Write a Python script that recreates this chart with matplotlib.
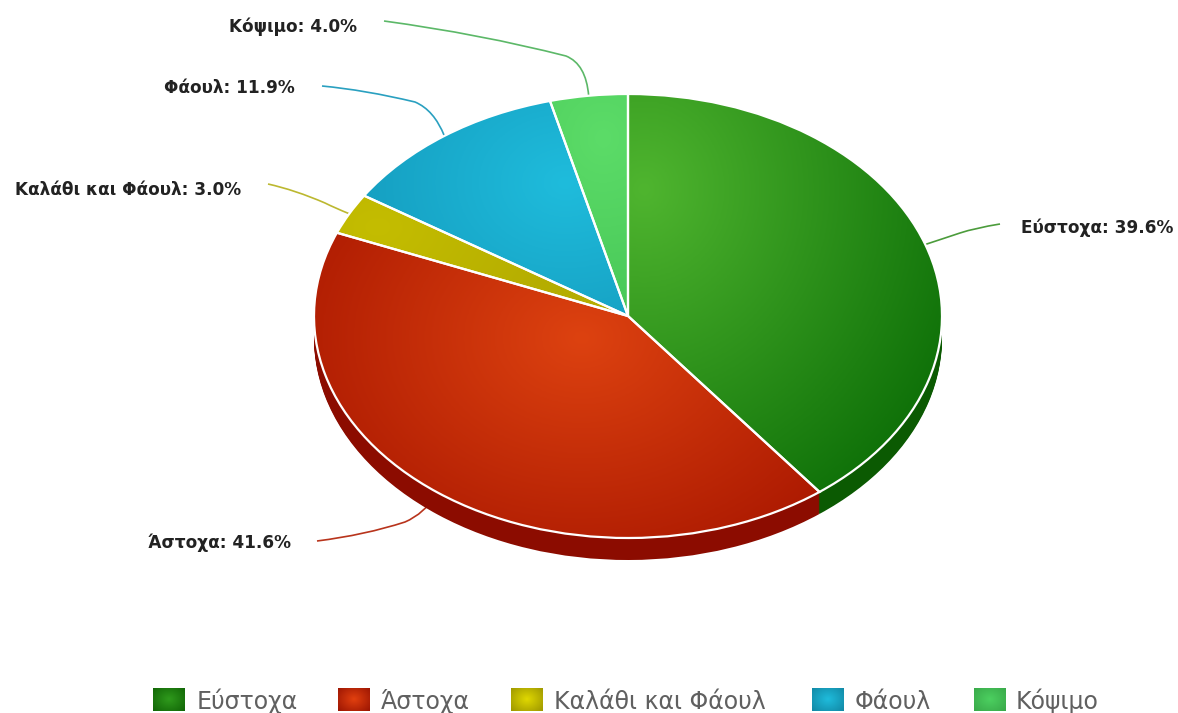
import numpy as np
import matplotlib
matplotlib.use("Agg")
import matplotlib.pyplot as plt
from matplotlib.colors import LinearSegmentedColormap
from matplotlib.path import Path
from matplotlib.patches import PathPatch

# Slice data
categories = ["Εύστοχα", "Άστοχα", "Καλάθι και Φάουλ", "Φάουλ", "Κόψιμο"]
values = [39.6, 41.6, 3.0, 11.9, 4.0]

# Colours: gradient centre, gradient edge, side wall, leader line
light_colors = ["#4fb52f", "#dd4210", "#c4bd00", "#1fbcdc", "#5cdc68"]
dark_colors = ["#0e7008", "#a81600", "#b5ad00", "#1295b8", "#48c858"]
side_colors = ["#0b5a02", "#8c0c00", "#8f8900", "#0f7d99", "#35a045"]
line_colors = ["#4c9c3c", "#b8341c", "#bcb830", "#2aa0c0", "#5cb868"]
swatch_colors = ["#2f9a1c", "#e2400f", "#e0d800", "#1fbcdc", "#4cd060"]

# Brightest spot of each slice, and how far the gradient reaches (pie units)
focus_points = [(0.05, 0.57), (-0.15, -0.1), (-0.8, 0.4), (-0.2, 0.6), (-0.08, 0.8)]
reach = [(1.1, 1.7), (1.1, 1.2), (0.6, 0.6), (0.9, 1.0), (0.5, 0.8)]

# Canvas and pie geometry, in pixels
W, H = 1178, 713
CX, CY = 628, 316
RX, RY = 314, 222
DEPTH = 22

# Label anchors
label_pos = [(1021, 228, "left"), (291, 543, "right"), (241, 190, "right"),
             (295, 88, "right"), (357, 27, "right")]

# Leader lines: corner control point, where the corner ends, outer control, outer end
leader_corner = [(945, 238), (424, 514), (335, 208), (434, 110), (586, 64)]
leader_after = [(960, 233), (405, 522), (325, 203), (415, 102), (566, 56)]
leader_outer = [(975, 228), (365, 535), (295, 190), (365, 90), (480, 34)]
leader_ends = [(1000, 224), (317, 541), (268, 184), (322, 86), (384, 21)]

# Legend layout
legend_x = [153, 338, 511, 812, 974]
legend_text_x = [197, 381, 554, 855, 1016]
legend_y = 701


def radial_image(ax, extent, focus, radius, c0, c1, clip=None):
    # Radial gradient drawn as an image, optionally clipped by a patch
    x0, x1, y0, y1 = extent
    xs = np.linspace(x0, x1, 300)
    ys = np.linspace(y0, y1, 300)
    xx, yy = np.meshgrid(xs, ys)
    d = np.sqrt(((xx - focus[0]) / radius[0]) ** 2 + ((yy - focus[1]) / radius[1]) ** 2)
    cmap = LinearSegmentedColormap.from_list("g", [c0, c1])
    im = ax.imshow(d, extent=extent, origin="lower", cmap=cmap, vmin=0, vmax=1,
                   aspect="auto", interpolation="bilinear", zorder=3)
    if clip is not None:
        im.set_clip_path(clip)
    return im


fig = plt.figure(figsize=(W / 100, H / 100), dpi=100)
fig.patch.set_facecolor("white")

# Overlay axes in pixel units, kept under the pie so leaders tuck behind the wall
ov = fig.add_axes([0, 0, 1, 1], zorder=0)
ov.axis("off")

# Pie axes: the unit circle spans the ellipse on the canvas
ax = fig.add_axes([0, 0, 1, 1], zorder=1)

# Side wall, built from stacked copies of the pie pushed downward
for off in np.linspace(DEPTH / RY, 0, DEPTH + 1):
    ax.pie(values, colors=side_colors, startangle=90, counterclock=False,
           center=(0, -off), radius=1)

wedges, _ = ax.pie(values, colors=light_colors, startangle=90, counterclock=False,
                   radius=1)

for i, w in enumerate(wedges):
    w.set_zorder(4)
    w.set_facecolor("none")
    w.set_edgecolor("white")
    w.set_linewidth(1.6)
    radial_image(ax, (-1.01, 1.01, -1.01, 1.01), focus_points[i], reach[i],
                 light_colors[i], dark_colors[i], clip=w)

ax.set_aspect("auto")
ax.set_xlim(-CX / RX, (W - CX) / RX)
ax.set_ylim((CY - H) / RY, CY / RY)
ax.axis("off")

cum = np.cumsum([0] + values)
total = sum(values)
for i, cat in enumerate(categories):
    mid = (cum[i] + values[i] / 2) / total * 2 * np.pi
    ax_x = CX + RX * np.sin(mid)
    ax_y = CY - RY * np.cos(mid)
    verts = [(ax_x, ax_y), leader_corner[i], leader_after[i], leader_outer[i], leader_ends[i]]
    codes = [Path.MOVETO, Path.CURVE3, Path.CURVE3, Path.CURVE3, Path.CURVE3]
    ov.add_patch(PathPatch(Path(verts, codes), fc="none", ec=line_colors[i], lw=1.2, zorder=5))
    tx, ty, ha = label_pos[i]
    ov.text(tx, ty, f"{cat}: {values[i]:.1f}%", ha=ha, va="center",
            family="DejaVu Sans", weight="bold", fontsize=12.2, color="#222222")

# Legend with gradient swatches
for i, cat in enumerate(categories):
    x0 = legend_x[i]
    ext = (x0, x0 + 32, legend_y - 13, legend_y + 10)
    radial_image(ov, ext, (x0 + 16, legend_y - 2), (26, 21), swatch_colors[i], side_colors[i])
    ov.text(legend_text_x[i], legend_y + 8, cat, ha="left", va="baseline",
            family="DejaVu Sans", fontsize=17, color="#606060")
ov.set_xlim(0, W)
ov.set_ylim(H, 0)

fig.savefig("out.png", dpi=100)
